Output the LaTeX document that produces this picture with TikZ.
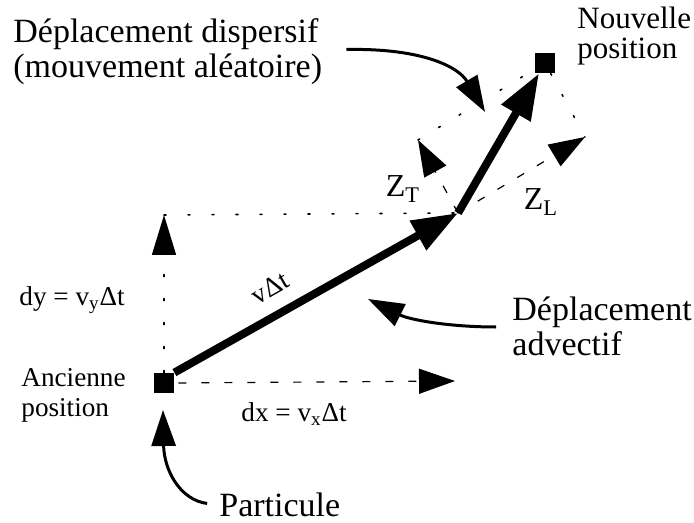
\documentclass[tikz,border=0pt]{standalone}
\usepackage{fontspec}
\setmainfont{Liberation Serif}
\usetikzlibrary{arrows.meta,positioning,calc}

\begin{document}
\begin{tikzpicture}[x=0.5pt, y=-0.5pt,
  bigtxt/.style={font=\fontsize{17}{17.5}\selectfont, align=left, inner sep=0pt},
  smalltxt/.style={font=\fontsize{13.6}{15}\selectfont, align=left, inner sep=0pt},
  ztxt/.style={font=\fontsize{16}{18}\selectfont, inner sep=0pt},
  square/.style={fill=black, draw=none, minimum size=10pt, inner sep=0pt},
  bigvec/.style={line width=4pt, -{Triangle[length=23pt,width=16pt]}},
  compvec/.style={line width=0.6pt, dash pattern=on 4pt off 7.5pt, -{Triangle[length=18pt,width=12.5pt]}},
  guide/.style={line width=0.8pt, dash pattern=on 1pt off 11pt, line cap=round},
  callout/.style={line width=1.5pt, -{Triangle[length=18pt,width=12pt]}}]

\useasboundingbox (0,0) rectangle (694,523);

% particle positions
\node[square] (old) at (164,383) {};
\node[square] (new) at (545,63) {};
\coordinate (mid) at (458,213);
\coordinate (zt) at (418,140);
\coordinate (zl) at (585,137);
\coordinate (vtip) at (164,215);
\coordinate (xtip) at (455,381);

% components of the advective step
\draw[guide, -{Triangle[length=20pt,width=12pt]}] (old) -- (vtip);
\draw[guide] (vtip) -- (mid);
\draw[compvec, shorten <=2pt] (old.east) -- (xtip);

% dispersive step
\draw[compvec] (mid) -- (zt);
\draw[compvec] (mid) -- (zl);
\draw[guide] (zt) -- (new);
\draw[guide] (new) -- (zl);

\draw[bigvec] (old.north east) -- (mid);
\draw[bigvec] (mid) -- (new);

% labels
\node[bigtxt, anchor=west] (disp) at (13,52) {Déplacement dispersif\\(mouvement aléatoire)};
\node[smalltxt, anchor=west, font=\fontsize{15.5}{15}\selectfont] (newlbl) at (577,36) {Nouvelle\\position};
\node[smalltxt, anchor=west] (oldlbl) at (21,395) {Ancienne\\position};
\node[smalltxt, anchor=west] (dy) at (19,300) {dy = v\textsubscript{y}Δt};
\node[smalltxt, anchor=west] (dx) at (241,414) {dx = v\textsubscript{x}Δt};
\node[smalltxt, rotate=30] (vdt) at (270,288) {vΔt};
\node[ztxt] (ztlbl) at (403,189) {Z\textsubscript{T}};
\node[ztxt] (zllbl) at (541,202) {Z\textsubscript{L}};
\node[bigtxt, anchor=west] (adv) at (512,326) {Déplacement\\advectif};
\node[bigtxt, anchor=west] (part) at (219,505) {Particule};

% call-outs
\draw[callout, shorten <=12pt] (disp.east |- 0,50) .. controls (420,48) and (458,66) .. (485,112);
\draw[callout, shorten <=8pt] (adv.west |- 0,327) .. controls (450,327) and (410,320) .. (368,299);
\draw[callout, shorten <=6pt] (part.west) .. controls (180,500) and (164,470) .. (163,410);

\end{tikzpicture}
\end{document}
